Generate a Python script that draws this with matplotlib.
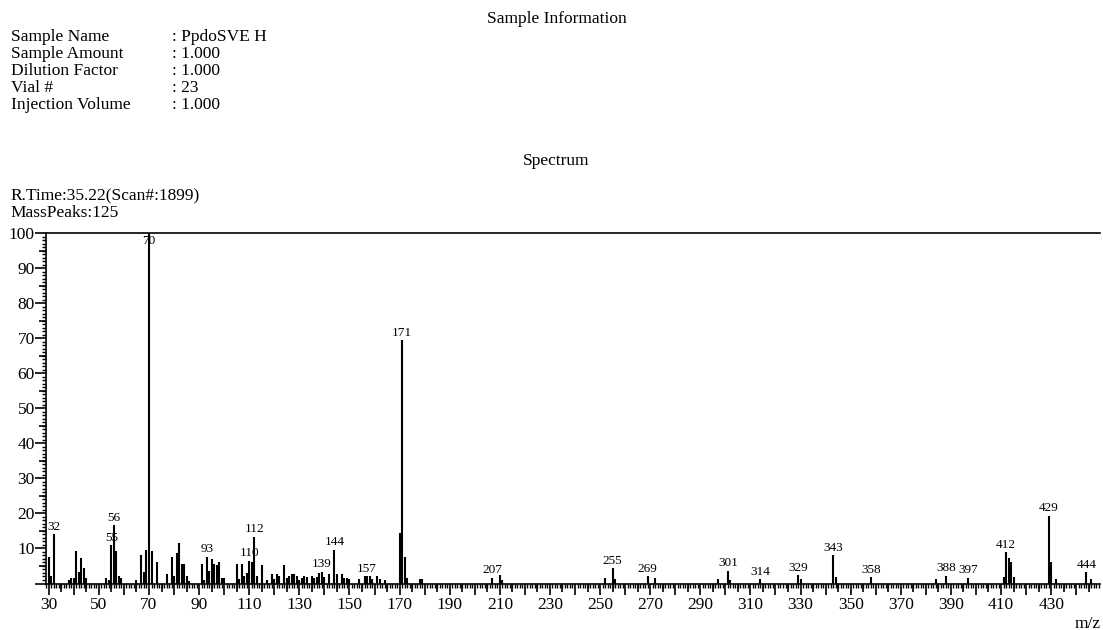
import numpy as np
import matplotlib
matplotlib.use("Agg")
import matplotlib.pyplot as plt
from matplotlib.ticker import MultipleLocator, FixedLocator, FuncFormatter

plt.rcParams['font.family'] = ['Liberation Serif', 'DejaVu Serif']

# header information
info_names = ['Sample Name', 'Sample Amount', 'Dilution Factor', 'Vial #', 'Injection Volume']
info_values = [': PpdoSVE H', ': 1.000', ': 1.000', ': 23', ': 1.000']
rtime_text = 'R.Time:35.22(Scan#:1899)'
peaks_text = 'MassPeaks:125'

# spectrum (m/z, relative intensity)
mz = [30, 31, 32, 38, 39, 40, 41, 42, 43, 44, 45, 53, 54, 55, 56, 57, 58, 59,
      65, 67, 68, 69, 70, 71, 73, 77, 79, 80, 81, 82, 83, 84, 85, 86,
      91, 92, 93, 94, 95, 96, 97, 98, 99, 100,
      105, 106, 107, 108, 109, 110, 111, 112, 113, 115, 117, 119, 120, 121, 122,
      124, 125, 126, 127, 128, 129, 130, 131, 132, 133, 135, 136, 137, 138, 139,
      140, 142, 144, 145, 147, 148, 149, 150, 154, 156, 157, 158, 159, 161, 162,
      164, 170, 171, 172, 173, 178, 179, 207, 210, 211,
      252, 255, 256, 269, 272, 297, 301, 302, 314, 329, 330,
      343, 344, 358, 384, 388, 397, 411, 412, 413, 414, 415, 429, 430, 432, 444, 446]
inten = [7.5, 2.1, 14.1, 1.0, 1.5, 1.5, 9.4, 3.3, 7.4, 4.5, 1.5, 1.5, 1.0, 11.0, 16.7, 9.4, 2.0, 1.7,
         1.0, 8.1, 3.3, 9.7, 100.0, 9.4, 6.0, 2.7, 7.5, 2.0, 8.6, 11.5, 5.6, 5.6, 2.0, 0.6,
         5.6, 1.0, 7.6, 3.5, 7.0, 5.6, 5.3, 6.0, 1.5, 1.5,
         5.6, 1.3, 5.6, 2.2, 3.0, 6.5, 6.0, 13.4, 2.2, 5.3, 1.0, 2.7, 1.3, 2.7, 2.0,
         5.3, 1.5, 2.0, 2.7, 2.7, 2.0, 1.0, 1.5, 2.2, 1.8, 2.2, 1.5, 1.8, 3.1, 3.4,
         1.8, 2.7, 9.7, 2.7, 2.7, 1.6, 1.5, 1.4, 1.2, 2.0, 2.0, 2.0, 1.4, 2.0, 1.4,
         1.0, 14.5, 69.5, 7.7, 1.5, 1.2, 1.2, 1.6, 2.5, 1.0,
         1.7, 4.3, 1.2, 2.0, 1.5, 1.2, 3.7, 1.0, 1.2, 2.3, 1.2,
         8.1, 1.8, 1.8, 1.2, 2.2, 1.6, 1.8, 8.9, 7.3, 6.2, 1.8, 19.3, 6.2, 1.2, 3.2, 1.2]
labeled = [32, 55, 56, 70, 93, 110, 112, 139, 144, 157, 171, 207, 255, 269,
           301, 314, 329, 343, 358, 388, 397, 412, 429, 444]

fig = plt.figure(figsize=(11.03, 6.30), dpi=100)

# header block
fig.text(557 / 1103, 1 - 19 / 630, 'Sample Information', ha='center', va='center', fontsize=12.5)
for i, (n, v) in enumerate(zip(info_names, info_values)):
    y = 1 - (37 + 17 * i) / 630
    fig.text(11 / 1103, y, n, ha='left', va='center', fontsize=12.5)
    fig.text(172 / 1103, y, v, ha='left', va='center', fontsize=12.5)
fig.text(556 / 1103, 1 - 161 / 630, 'Spectrum', ha='center', va='center', fontsize=12.5)
fig.text(10 / 1103, 1 - 196 / 630, rtime_text, ha='left', va='center', fontsize=12.5)
fig.text(10 / 1103, 1 - 213 / 630, peaks_text, ha='left', va='center', fontsize=12.5)

ax = fig.add_axes([46 / 1103, 1 - 583.5 / 630, 1054 / 1103, 350.5 / 630])
ax.vlines(mz, 0, inten, color='black', lw=1.5)
ax.set_xlim(28.9, 449.5)
ax.set_ylim(0, 100)

for m, v in zip(mz, inten):
    if m in labeled:
        if v > 95:
            ax.text(m, 99.5, str(m), ha='center', va='top', fontsize=9.5)
        else:
            ax.text(m, v + 0.4, str(m), ha='center', va='bottom', fontsize=9.5)

ax.spines['right'].set_visible(False)
for s in ['left', 'top', 'bottom']:
    ax.spines[s].set_linewidth(1.2)

# x axis ticks
ax.xaxis.set_major_locator(MultipleLocator(10))
ax.xaxis.set_minor_locator(MultipleLocator(1))
ax.xaxis.set_major_formatter(FuncFormatter(lambda x, p: '%d' % x if int(round(x)) % 20 == 10 else ''))
ax.tick_params(axis='x', which='major', length=8, width=1.2, pad=2, labelsize=12.5)
ax.tick_params(axis='x', which='minor', length=3, width=1.0)
secx = ax.secondary_xaxis('bottom')
secx.xaxis.set_major_locator(FixedLocator(np.arange(35, 450, 10)))
secx.tick_params(length=5.5, width=1.2)
secx.set_xticklabels([])
secx.spines['bottom'].set_visible(False)

# y axis ticks
ax.yaxis.set_major_locator(MultipleLocator(10))
ax.yaxis.set_minor_locator(MultipleLocator(1))
ax.yaxis.set_major_formatter(FuncFormatter(lambda y, p: '' if y < 1 else '%d' % y))
ax.tick_params(axis='y', which='major', length=8, width=1.2, pad=0, labelsize=12.5)
ax.tick_params(axis='y', which='minor', length=3, width=1.0)
secy = ax.secondary_yaxis('left')
secy.yaxis.set_major_locator(FixedLocator(np.arange(5, 100, 10)))
secy.tick_params(length=5, width=1.2)
secy.set_yticklabels([])
secy.spines['left'].set_visible(False)

fig.text(1088 / 1103, 1 - 624 / 630, 'm/z', ha='center', va='center', fontsize=12.5)

fig.savefig('out.png', dpi=100)
